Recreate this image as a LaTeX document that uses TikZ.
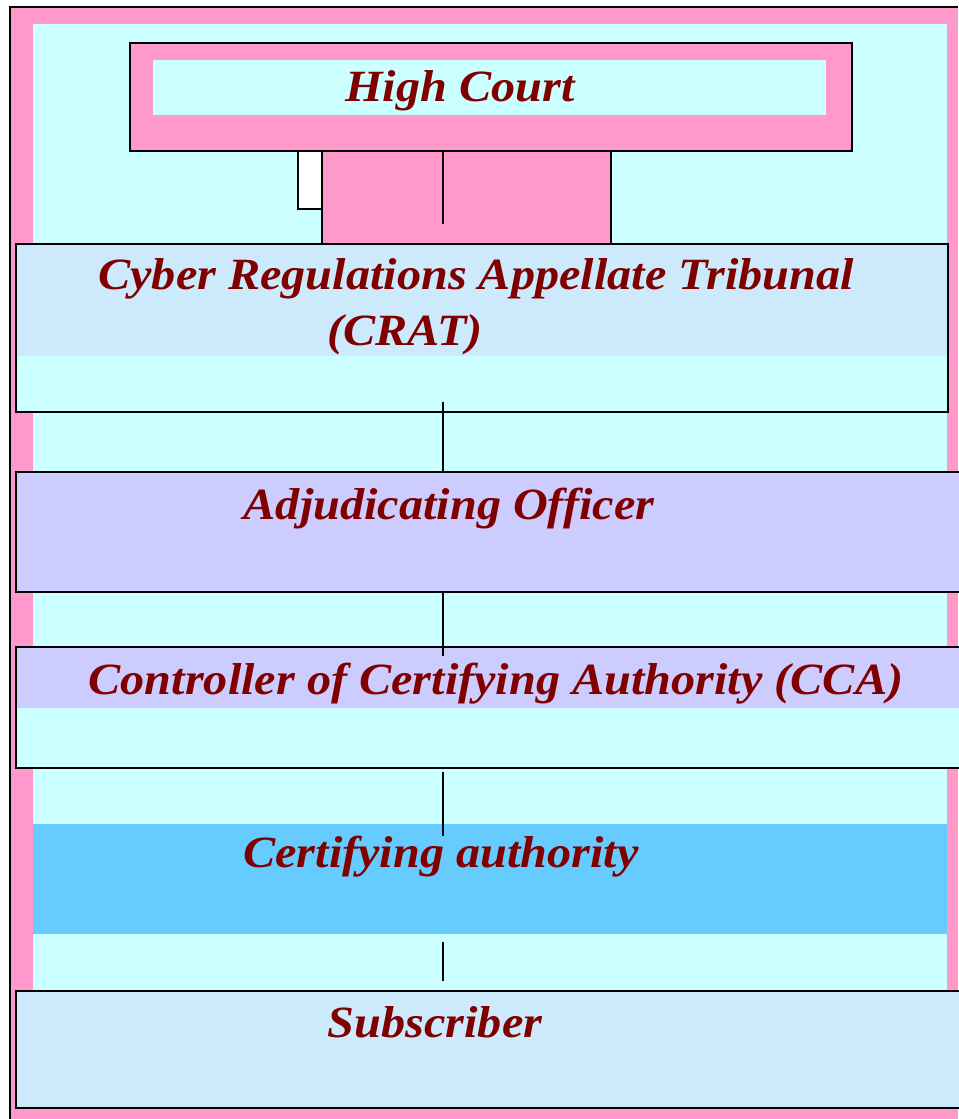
\documentclass[tikz,border=0pt]{standalone}
\usepackage{fontspec}
\setmainfont{Liberation Serif}[FakeStretch=1.08]
\begin{document}
\begin{tikzpicture}[x=0.75pt,y=-0.75pt,
  box/.style={draw=black,line width=1.2pt},
  lbl/.style={anchor=base,inner sep=0pt,text=txtred,font=\fontsize{33.5}{40}\selectfont\bfseries\itshape},
  conn/.style={draw=black,line width=0.9pt}]
\definecolor{pinkc}{RGB}{255,153,204}
\definecolor{cyanc}{RGB}{204,255,255}
\definecolor{lblue}{RGB}{204,234,252}
\definecolor{lav}{RGB}{204,204,255}
\definecolor{skyc}{RGB}{102,204,255}
\definecolor{txtred}{RGB}{128,0,0}
\useasboundingbox (0,0) rectangle (958,1119);
% background
\fill[white] (0,0) rectangle (958,1119);
\fill[pinkc] (10,7) rectangle (958,1119);
\draw[line width=1.2pt] (10,1119) -- (10,7) -- (958,7);
\fill[cyanc] (33,24) rectangle (947,1100);
% High Court
\draw[box,fill=pinkc] (130,43) rectangle (852,151);
\fill[cyanc] (153,60) rectangle (826,115);
\node[lbl] (hc) at (460,102) {High Court};
% link under High Court
\draw[box,fill=white] (322,151) -- (298,151) -- (298,209) -- (322,209);
\draw[box,fill=pinkc] (322,151) rectangle (611,244);
% CRAT
\fill[cyanc] (16,244) rectangle (948,412);
\fill[lblue] (16,244) rectangle (948,356);
\draw[box] (16,244) rectangle (948,412);
\node[lbl] (crat1) at (476,290) {Cyber Regulations Appellate Tribunal};
\node[lbl] (crat2) at (405,345) {(CRAT)};
% Adjudicating Officer
\draw[box,fill=lav] (16,472) rectangle (970,592);
\node[lbl] (ao) at (449,519) {Adjudicating Officer};
% CCA
\fill[cyanc] (16,647) rectangle (970,768);
\fill[lav] (16,647) rectangle (970,708);
\draw[box] (16,647) rectangle (970,768);
\node[lbl] (cca) at (496,694) {Controller of Certifying Authority (CCA)};
% Certifying authority
\fill[skyc] (33,824) rectangle (947,934);
\node[lbl] (ca) at (441,867) {Certifying authority};
% Subscriber
\draw[box,fill=lblue] (16,991) rectangle (970,1108);
\node[lbl] (sub) at (435,1037) {Subscriber};
% connectors
\coordinate (c1a) at (443,151);
\coordinate (c1b) at (443,224);
\coordinate (c2a) at (443,402);
\coordinate (c2b) at (443,472);
\coordinate (c3a) at (443,592);
\coordinate (c3b) at (443,656);
\coordinate (c4a) at (443,772);
\coordinate (c4b) at (443,836);
\coordinate (c5a) at (443,942);
\coordinate (c5b) at (443,981);
\draw[conn] (c1a) -- (c1b);
\draw[conn] (c2a) -- (c2b);
\draw[conn] (c3a) -- (c3b);
\draw[conn] (c4a) -- (c4b);
\draw[conn] (c5a) -- (c5b);
\end{tikzpicture}
\end{document}
